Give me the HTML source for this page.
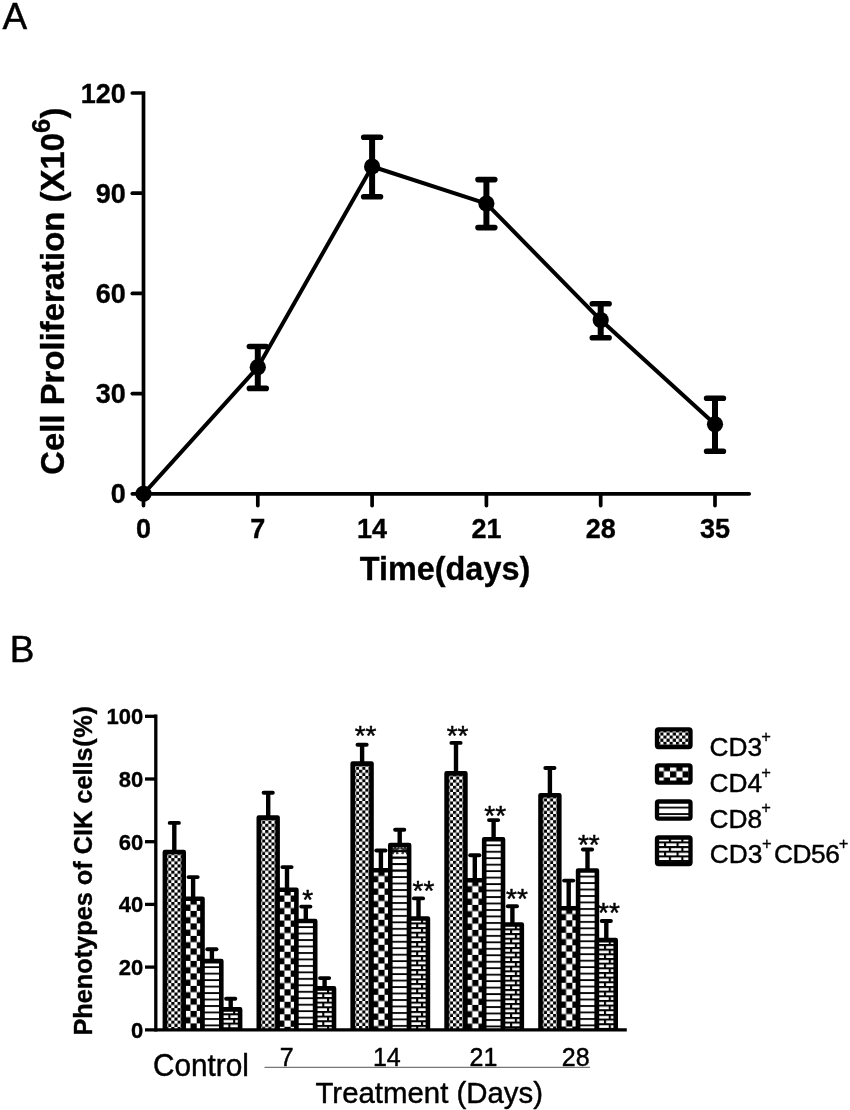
<!DOCTYPE html><html><head><meta charset="utf-8"><style>html,body{margin:0;padding:0;background:#fff}svg{display:block;will-change:transform;filter:grayscale(1)}text{font-family:"Liberation Sans",sans-serif;fill:#000;stroke:#000;stroke-width:.45px;stroke-linejoin:round}text[font-weight=bold]{stroke-width:.35px}</style></head><body>
<svg width="850" height="1110" viewBox="0 0 850 1110">
<rect width="850" height="1110" fill="#fff"/>
<defs>
<pattern id="pf" patternUnits="userSpaceOnUse" x="0.15" y="-0.1" width="6.25" height="6.25"><rect width="6.25" height="6.25" fill="#fff"/><rect x="0" y="0" width="3.125" height="3.125" fill="#000"/><rect x="3.125" y="3.125" width="3.125" height="3.125" fill="#000"/></pattern>
<pattern id="pc" patternUnits="userSpaceOnUse" x="0.55" y="-0.4" width="12.5" height="12.5"><rect width="12.5" height="12.5" fill="#fff"/><rect x="6.25" y="0" width="6.25" height="6.25" fill="#000"/><rect x="0" y="6.25" width="6.25" height="6.25" fill="#000"/></pattern>
<pattern id="ph" patternUnits="userSpaceOnUse" x="0" y="-1.37" width="25" height="6.47"><rect width="25" height="6.47" fill="#fff"/><rect x="0" y="0.1" width="25" height="1.8" fill="#000"/></pattern>
<pattern id="phl" patternUnits="userSpaceOnUse" x="0" y="-1.37" width="25" height="6.47"><rect x="0" y="0.1" width="25" height="1.8" fill="#000"/></pattern>
<pattern id="pb" patternUnits="userSpaceOnUse" x="-0.65" y="-0.76" width="12.5" height="9.32"><rect width="12.5" height="9.32" fill="#fff"/><rect x="0" y="0" width="12.5" height="2.05" fill="#000"/><rect x="0" y="4.66" width="12.5" height="2.05" fill="#000"/><rect x="0" y="0" width="2.1" height="4.66" fill="#000"/><rect x="7.7" y="4.66" width="2.1" height="4.66" fill="#000"/></pattern>
</defs>
<text x="2.6" y="28.8" font-size="37">A</text>
<g stroke="#000" stroke-width="3.7" fill="none" stroke-linecap="round" stroke-linejoin="miter">
<path d="M132.3 93.0H143.5V505.6"/>
<path d="M132.3 493.8H749.2"/>
<path d="M132.3 393.6H142.5"/>
<path d="M132.3 293.4H142.5"/>
<path d="M132.3 193.2H142.5"/>
<path d="M257.8 494.8V505.6"/>
<path d="M372.1 494.8V505.6"/>
<path d="M486.4 494.8V505.6"/>
<path d="M600.7 494.8V505.6"/>
<path d="M715.0 494.8V505.6"/>
</g>
<text x="125.8" y="503.3" font-size="27" font-weight="bold" text-anchor="end">0</text>
<text x="125.8" y="403.1" font-size="27" font-weight="bold" text-anchor="end">30</text>
<text x="125.8" y="302.9" font-size="27" font-weight="bold" text-anchor="end">60</text>
<text x="125.8" y="202.7" font-size="27" font-weight="bold" text-anchor="end">90</text>
<text x="125.8" y="102.5" font-size="27" font-weight="bold" text-anchor="end">120</text>
<text x="143.5" y="538.1" font-size="27" font-weight="bold" text-anchor="middle">0</text>
<text x="257.8" y="538.1" font-size="27" font-weight="bold" text-anchor="middle">7</text>
<text x="372.1" y="538.1" font-size="27" font-weight="bold" text-anchor="middle">14</text>
<text x="486.4" y="538.1" font-size="27" font-weight="bold" text-anchor="middle">21</text>
<text x="600.7" y="538.1" font-size="27" font-weight="bold" text-anchor="middle">28</text>
<text x="715.0" y="538.1" font-size="27" font-weight="bold" text-anchor="middle">35</text>
<text x="445" y="580.4" font-size="32.4" font-weight="bold" text-anchor="middle">Time(days)</text>
<text transform="translate(63.8,474.8) rotate(-90)" font-size="32.9" font-weight="bold">Cell Proliferation (X10<tspan font-size="25.5" dy="-13.5">6</tspan><tspan dy="13.5" dx="0.3">)</tspan></text>
<polyline points="143.5,493.8 257.8,367.2 372.1,166.5 486.4,203.6 600.7,320.1 715.0,424.3" fill="none" stroke="#000" stroke-width="4" stroke-linejoin="round"/>
<g stroke="#000" fill="none">
<path d="M257.8 346.5V388.4" stroke-width="6"/><path d="M249.4 346.5H266.2M249.4 388.4H266.2" stroke-width="5.6" stroke-linecap="round"/>
<path d="M372.1 137.2V196.7" stroke-width="6"/><path d="M363.7 137.2H380.5M363.7 196.7H380.5" stroke-width="5.6" stroke-linecap="round"/>
<path d="M486.4 179.6V227.6" stroke-width="6"/><path d="M478.0 179.6H494.8M478.0 227.6H494.8" stroke-width="5.6" stroke-linecap="round"/>
<path d="M600.7 303.8V337.7" stroke-width="6"/><path d="M592.3 303.8H609.1M592.3 337.7H609.1" stroke-width="5.6" stroke-linecap="round"/>
<path d="M715.0 398.2V451.2" stroke-width="6"/><path d="M706.6 398.2H723.4M706.6 451.2H723.4" stroke-width="5.6" stroke-linecap="round"/>
</g>
<circle cx="143.5" cy="493.8" r="8.1" fill="#000"/>
<circle cx="257.8" cy="367.2" r="8.1" fill="#000"/>
<circle cx="372.1" cy="166.5" r="8.1" fill="#000"/>
<circle cx="486.4" cy="203.6" r="8.1" fill="#000"/>
<circle cx="600.7" cy="320.1" r="8.1" fill="#000"/>
<circle cx="715.0" cy="424.3" r="8.1" fill="#000"/>
<text x="9.7" y="662" font-size="37">B</text>
<g stroke="#000" stroke-width="3.3" fill="none">
<path d="M155.8 714.6V1031.45"/>
<path d="M145 967.1H155.8"/>
<path d="M145 904.4H155.8"/>
<path d="M145 841.7H155.8"/>
<path d="M145 779.0H155.8"/>
<path d="M145 716.3H155.8"/>
</g>
<text x="143.2" y="1037.6" font-size="22" font-weight="bold" text-anchor="end">0</text>
<text x="143.2" y="974.9" font-size="22" font-weight="bold" text-anchor="end">20</text>
<text x="143.2" y="912.2" font-size="22" font-weight="bold" text-anchor="end">40</text>
<text x="143.2" y="849.5" font-size="22" font-weight="bold" text-anchor="end">60</text>
<text x="143.2" y="786.8" font-size="22" font-weight="bold" text-anchor="end">80</text>
<text x="143.2" y="724.1" font-size="22" font-weight="bold" text-anchor="end">100</text>
<text transform="translate(91.5,1035.6) rotate(-90)" font-size="25.3" font-weight="bold">Phenotypes of CIK cells<tspan dx="0.7 0.6 0.6">(%)</tspan></text>
<clipPath id="c14"><rect x="0" y="0" width="18.8" height="30"/></clipPath>
<path d="M174.3 852.0V822.9" stroke="#000" stroke-width="4.4" fill="none"/><path d="M169.7 822.9H178.9" stroke="#000" stroke-width="3.9" stroke-linecap="round" fill="none"/>
<g transform="translate(164.9,852.0)"><rect x="0" y="0" width="18.8" height="177.8" fill="url(#pf)"/>
<path d="M0 177.8V0H18.8V177.8" fill="none" stroke="#000" stroke-width="4.6" stroke-linejoin="round"/></g>
<path d="M193.1 898.8V877.1" stroke="#000" stroke-width="4.4" fill="none"/><path d="M188.5 877.1H197.7" stroke="#000" stroke-width="3.9" stroke-linecap="round" fill="none"/>
<g transform="translate(183.7,898.8)"><rect x="0" y="0" width="18.8" height="131.0" fill="url(#pc)"/>
<path d="M0 131.0V0H18.8V131.0" fill="none" stroke="#000" stroke-width="4.6" stroke-linejoin="round"/></g>
<path d="M211.9 961.1V949.2" stroke="#000" stroke-width="4.4" fill="none"/><path d="M207.3 949.2H216.5" stroke="#000" stroke-width="3.9" stroke-linecap="round" fill="none"/>
<g transform="translate(202.5,961.1)"><rect x="0" y="0" width="18.8" height="68.7" fill="url(#ph)"/>
<path d="M0 68.7V0H18.8V68.7" fill="none" stroke="#000" stroke-width="4.6" stroke-linejoin="round"/></g>
<path d="M230.7 1009.4V998.8" stroke="#000" stroke-width="4.4" fill="none"/><path d="M226.1 998.8H235.3" stroke="#000" stroke-width="3.9" stroke-linecap="round" fill="none"/>
<g transform="translate(221.3,1009.4)"><rect x="0" y="0" width="18.8" height="20.4" fill="url(#pb)"/>
<path d="M0 20.4V0H18.8V20.4" fill="none" stroke="#000" stroke-width="4.6" stroke-linejoin="round"/></g>
<path d="M268.2 817.6V792.8" stroke="#000" stroke-width="4.4" fill="none"/><path d="M263.6 792.8H272.8" stroke="#000" stroke-width="3.9" stroke-linecap="round" fill="none"/>
<g transform="translate(258.8,817.6)"><rect x="0" y="0" width="18.8" height="212.2" fill="url(#pf)"/>
<path d="M0 212.2V0H18.8V212.2" fill="none" stroke="#000" stroke-width="4.6" stroke-linejoin="round"/></g>
<path d="M287.0 889.7V867.1" stroke="#000" stroke-width="4.4" fill="none"/><path d="M282.4 867.1H291.6" stroke="#000" stroke-width="3.9" stroke-linecap="round" fill="none"/>
<g transform="translate(277.6,889.7)"><rect x="0" y="0" width="18.8" height="140.1" fill="url(#pc)"/>
<path d="M0 140.1V0H18.8V140.1" fill="none" stroke="#000" stroke-width="4.6" stroke-linejoin="round"/></g>
<path d="M305.8 921.0V906.6" stroke="#000" stroke-width="4.4" fill="none"/><path d="M301.2 906.6H310.4" stroke="#000" stroke-width="3.9" stroke-linecap="round" fill="none"/>
<g transform="translate(296.4,921.0)"><rect x="0" y="0" width="18.8" height="108.8" fill="url(#ph)"/>
<path d="M0 108.8V0H18.8V108.8" fill="none" stroke="#000" stroke-width="4.6" stroke-linejoin="round"/></g>
<path d="M324.6 988.4V978.1" stroke="#000" stroke-width="4.4" fill="none"/><path d="M320.0 978.1H329.2" stroke="#000" stroke-width="3.9" stroke-linecap="round" fill="none"/>
<g transform="translate(315.2,988.4)"><rect x="0" y="0" width="18.8" height="41.4" fill="url(#pb)"/>
<path d="M0 41.4V0H18.8V41.4" fill="none" stroke="#000" stroke-width="4.6" stroke-linejoin="round"/></g>
<text x="307.6" y="909.2" font-size="28" text-anchor="middle">*</text>
<path d="M362.1 763.6V744.8" stroke="#000" stroke-width="4.4" fill="none"/><path d="M357.5 744.8H366.7" stroke="#000" stroke-width="3.9" stroke-linecap="round" fill="none"/>
<g transform="translate(352.7,763.6)"><rect x="0" y="0" width="18.8" height="266.2" fill="url(#pf)"/>
<path d="M0 266.2V0H18.8V266.2" fill="none" stroke="#000" stroke-width="4.6" stroke-linejoin="round"/></g>
<path d="M380.9 870.2V850.5" stroke="#000" stroke-width="4.4" fill="none"/><path d="M376.3 850.5H385.5" stroke="#000" stroke-width="3.9" stroke-linecap="round" fill="none"/>
<g transform="translate(371.5,870.2)"><rect x="0" y="0" width="18.8" height="159.6" fill="url(#pc)"/>
<path d="M0 159.6V0H18.8V159.6" fill="none" stroke="#000" stroke-width="4.6" stroke-linejoin="round"/></g>
<path d="M399.7 845.1V829.8" stroke="#000" stroke-width="4.4" fill="none"/><path d="M395.1 829.8H404.3" stroke="#000" stroke-width="3.9" stroke-linecap="round" fill="none"/>
<g transform="translate(390.3,845.1)"><rect x="0" y="0" width="18.8" height="184.7" fill="url(#ph)"/>
<g clip-path="url(#c14)"><text x="9.6" y="17.5" font-size="25" text-anchor="middle" style="fill:#333">**</text><rect x="0" y="0" width="18.8" height="30" fill="url(#phl)"/></g>
<path d="M0 184.7V0H18.8V184.7" fill="none" stroke="#000" stroke-width="4.6" stroke-linejoin="round"/></g>
<path d="M418.5 918.5V898.4" stroke="#000" stroke-width="4.4" fill="none"/><path d="M413.9 898.4H423.1" stroke="#000" stroke-width="3.9" stroke-linecap="round" fill="none"/>
<g transform="translate(409.1,918.5)"><rect x="0" y="0" width="18.8" height="111.3" fill="url(#pb)"/>
<path d="M0 111.3V0H18.8V111.3" fill="none" stroke="#000" stroke-width="4.6" stroke-linejoin="round"/></g>
<text x="365.6" y="745.4" font-size="28" text-anchor="middle">**</text>
<text x="423.4" y="900.1" font-size="28" text-anchor="middle">**</text>
<path d="M456.0 773.4V742.9" stroke="#000" stroke-width="4.4" fill="none"/><path d="M451.4 742.9H460.6" stroke="#000" stroke-width="3.9" stroke-linecap="round" fill="none"/>
<g transform="translate(446.6,773.4)"><rect x="0" y="0" width="18.8" height="256.4" fill="url(#pf)"/>
<path d="M0 256.4V0H18.8V256.4" fill="none" stroke="#000" stroke-width="4.6" stroke-linejoin="round"/></g>
<path d="M474.8 880.3V855.2" stroke="#000" stroke-width="4.4" fill="none"/><path d="M470.2 855.2H479.4" stroke="#000" stroke-width="3.9" stroke-linecap="round" fill="none"/>
<g transform="translate(465.4,880.3)"><rect x="0" y="0" width="18.8" height="149.5" fill="url(#pc)"/>
<path d="M0 149.5V0H18.8V149.5" fill="none" stroke="#000" stroke-width="4.6" stroke-linejoin="round"/></g>
<path d="M493.6 839.2V820.1" stroke="#000" stroke-width="4.4" fill="none"/><path d="M489.0 820.1H498.2" stroke="#000" stroke-width="3.9" stroke-linecap="round" fill="none"/>
<g transform="translate(484.2,839.2)"><rect x="0" y="0" width="18.8" height="190.6" fill="url(#ph)"/>
<path d="M0 190.6V0H18.8V190.6" fill="none" stroke="#000" stroke-width="4.6" stroke-linejoin="round"/></g>
<path d="M512.4 924.5V906.3" stroke="#000" stroke-width="4.4" fill="none"/><path d="M507.8 906.3H517.0" stroke="#000" stroke-width="3.9" stroke-linecap="round" fill="none"/>
<g transform="translate(503.0,924.5)"><rect x="0" y="0" width="18.8" height="105.3" fill="url(#pb)"/>
<path d="M0 105.3V0H18.8V105.3" fill="none" stroke="#000" stroke-width="4.6" stroke-linejoin="round"/></g>
<text x="457.6" y="745.4" font-size="28" text-anchor="middle">**</text>
<text x="495.2" y="825.4" font-size="28" text-anchor="middle">**</text>
<text x="517.0" y="908.4" font-size="28" text-anchor="middle">**</text>
<path d="M549.9 795.3V768.0" stroke="#000" stroke-width="4.4" fill="none"/><path d="M545.3 768.0H554.5" stroke="#000" stroke-width="3.9" stroke-linecap="round" fill="none"/>
<g transform="translate(540.5,795.3)"><rect x="0" y="0" width="18.8" height="234.5" fill="url(#pf)"/>
<path d="M0 234.5V0H18.8V234.5" fill="none" stroke="#000" stroke-width="4.6" stroke-linejoin="round"/></g>
<path d="M568.7 908.2V880.6" stroke="#000" stroke-width="4.4" fill="none"/><path d="M564.1 880.6H573.3" stroke="#000" stroke-width="3.9" stroke-linecap="round" fill="none"/>
<g transform="translate(559.3,908.2)"><rect x="0" y="0" width="18.8" height="121.6" fill="url(#pc)"/>
<path d="M0 121.6V0H18.8V121.6" fill="none" stroke="#000" stroke-width="4.6" stroke-linejoin="round"/></g>
<path d="M587.5 870.5V849.5" stroke="#000" stroke-width="4.4" fill="none"/><path d="M582.9 849.5H592.1" stroke="#000" stroke-width="3.9" stroke-linecap="round" fill="none"/>
<g transform="translate(578.1,870.5)"><rect x="0" y="0" width="18.8" height="159.3" fill="url(#ph)"/>
<path d="M0 159.3V0H18.8V159.3" fill="none" stroke="#000" stroke-width="4.6" stroke-linejoin="round"/></g>
<path d="M606.3 940.1V921.0" stroke="#000" stroke-width="4.4" fill="none"/><path d="M601.7 921.0H610.9" stroke="#000" stroke-width="3.9" stroke-linecap="round" fill="none"/>
<g transform="translate(596.9,940.1)"><rect x="0" y="0" width="18.8" height="89.7" fill="url(#pb)"/>
<path d="M0 89.7V0H18.8V89.7" fill="none" stroke="#000" stroke-width="4.6" stroke-linejoin="round"/></g>
<text x="588.8" y="853.5" font-size="28" text-anchor="middle">**</text>
<text x="609.0" y="922.2" font-size="28" text-anchor="middle">**</text>
<path d="M145 1029.8H626.8" stroke="#000" stroke-width="3.3"/>
<text x="152.9" y="1076" font-size="31.6" textLength="96" lengthAdjust="spacingAndGlyphs">Control</text>
<text x="286.8" y="1065.9" font-size="25" text-anchor="middle">7</text>
<text x="386.8" y="1065.9" font-size="25" text-anchor="middle">14</text>
<text x="483.5" y="1065.9" font-size="25" text-anchor="middle">21</text>
<text x="575.7" y="1065.9" font-size="25" text-anchor="middle">28</text>
<path d="M264.5 1067.3H590" stroke="#777" stroke-width="1.2"/>
<text x="315.5" y="1102.6" font-size="30" textLength="227.5" lengthAdjust="spacingAndGlyphs">Treatment (Days)</text>
<g transform="translate(657,729.4)"><rect x="0" y="0" width="33.5" height="17.6" rx="1.5" fill="url(#pf)" stroke="#000" stroke-width="4.3" stroke-linejoin="round"/></g>
<g transform="translate(657,765.4)"><rect x="0" y="0" width="33.5" height="17.2" rx="1.5" fill="url(#pc)" stroke="#000" stroke-width="4.3" stroke-linejoin="round"/></g>
<g transform="translate(657,801.5)"><rect x="0" y="0" width="33.5" height="17.1" rx="1.5" fill="url(#ph)" stroke="#000" stroke-width="4.3" stroke-linejoin="round"/></g>
<g transform="translate(657,837.5)"><rect x="0" y="0" width="33.5" height="26.5" rx="1.5" fill="url(#pb)" stroke="#000" stroke-width="4.3" stroke-linejoin="round"/></g>
<text x="709.6" y="756" font-size="26.3">CD3<tspan x="761.3" font-size="16.5" dy="-14.3" style="stroke-width:.3px">+</tspan></text>
<text x="709.6" y="791.8" font-size="26.3">CD4<tspan x="761.3" font-size="16.5" dy="-14.3" style="stroke-width:.3px">+</tspan></text>
<text x="709.6" y="827.6" font-size="26.3">CD8<tspan x="761.3" font-size="16.5" dy="-14.3" style="stroke-width:.3px">+</tspan></text>
<text x="709.8" y="862.9" font-size="26.3">CD3<tspan x="762.0" font-size="16.5" dy="-14.3" style="stroke-width:.3px">+</tspan><tspan x="773.9" dy="14.3" letter-spacing="-0.45">CD56</tspan><tspan x="838.8" font-size="16.5" dy="-14.3" style="stroke-width:.3px">+</tspan></text>
</svg></body></html>
